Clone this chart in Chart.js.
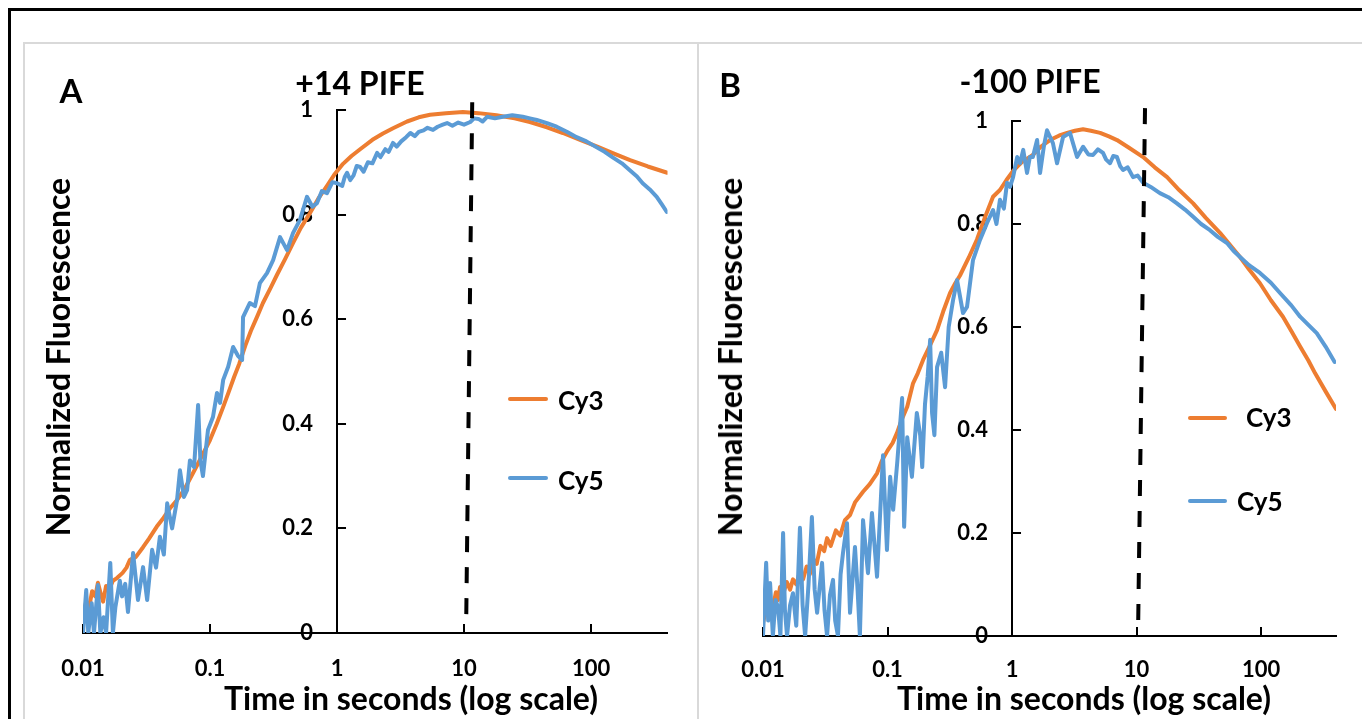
<!DOCTYPE html>
<html>
<head>
<meta charset="utf-8">
<script src="https://cdn.jsdelivr.net/npm/chart.js@4.4.1/dist/chart.umd.min.js"></script>
<style>
  html, body { margin: 0; padding: 0; background: #fff; }
  body { width: 1362px; height: 719px; position: relative; overflow: hidden;
         font-family: Lato, "Open Sans", sans-serif; font-weight: 700; color: #000; }
  .frame { position: absolute; left: 8px; top: 8px; width: 1400px; height: 800px; border: 3px solid #000; }
  .inner { position: absolute; left: 23px; top: 42px; width: 1400px; height: 800px; border: 2px solid #d9d9d9; }
  .divider { position: absolute; left: 697px; top: 42px; width: 2px; height: 700px; background: #d9d9d9; }
  canvas { position: absolute; top: 0; }
  .t { position: absolute; white-space: nowrap; line-height: 1; transform: translate(-50%, -50%); }
  .rot { transform: translate(-50%, -50%) rotate(-90deg); }
  .leg { position: absolute; white-space: nowrap; line-height: 1; transform: translate(0, -50%); font-size: 26px; }
  .swatch { position: absolute; height: 4px; border-radius: 2px; transform: translate(0, -50%); }
</style>
</head>
<body>
<div class="frame"></div>
<div class="inner"></div>
<div class="divider"></div>

<canvas id="panelA" width="698" height="719" style="left:0px"></canvas>
<canvas id="panelB" width="664" height="719" style="left:698px"></canvas>

<div class="t" style="left:71px; top:90px; font-size:33px">A</div>
<div class="t" style="left:360px; top:83px; font-size:32px">+14 PIFE</div>
<div class="t rot" style="left:58px; top:357px; font-size:32px">Normalized Fluorescence</div>
<div class="t" style="left:411px; top:698px; font-size:32px">Time in seconds (log scale)</div>
<div class="swatch" style="left:508px; top:399px; width:40px; background:#ED7D31"></div>
<div class="leg" style="left:558px; top:400px">Cy3</div>
<div class="swatch" style="left:508px; top:478px; width:40px; background:#5B9BD5"></div>
<div class="leg" style="left:558px; top:480px">Cy5</div>

<div class="t" style="left:730px; top:84px; font-size:33px">B</div>
<div class="t" style="left:1030px; top:81px; font-size:32px">-100 PIFE</div>
<div class="t rot" style="left:730px; top:357px; font-size:32px">Normalized Fluorescence</div>
<div class="t" style="left:1084px; top:698px; font-size:32px">Time in seconds (log scale)</div>
<div class="swatch" style="left:1188px; top:418px; width:39px; background:#ED7D31"></div>
<div class="leg" style="left:1246px; top:417px">Cy3</div>
<div class="swatch" style="left:1188px; top:501px; width:39px; background:#5B9BD5"></div>
<div class="leg" style="left:1237px; top:501px">Cy5</div>

<script>
// tick positions
const xTicks = [0.01, 0.1, 1, 10, 100];
const xTickLabels = ["0.01", "0.1", "1", "10", "100"];
const yTicks = [0, 0.2, 0.4, 0.6, 0.8, 1];
const yTickLabels = ["0", "0.2", "0.4", "0.6", "0.8", "1"];

// panel A (+14 PIFE): [time s, normalized fluorescence]
const cy3A = [
  [0.0100,0.03],[0.0106,0.06],[0.0112,0.05],[0.0118,0.08],[0.0125,0.07],[0.0131,0.096],[0.0138,0.075],
  [0.0144,0.06],[0.0152,0.09],[0.0162,0.085],[0.0172,0.10],[0.0185,0.105],[0.0205,0.115],[0.022,0.125],
  [0.0234,0.14],[0.026,0.145],[0.0297,0.164],[0.033,0.18],[0.038,0.203],[0.043,0.22],[0.049,0.24],
  [0.055,0.254],[0.063,0.275],[0.0735,0.306],[0.085,0.335],[0.100,0.369],[0.113,0.40],[0.126,0.43],
  [0.14,0.46],[0.155,0.49],[0.17,0.515],[0.19,0.55],[0.21,0.578],[0.235,0.605],[0.261,0.631],[0.3,0.66],
  [0.337,0.685],[0.39,0.715],[0.451,0.746],[0.52,0.775],[0.613,0.803],[0.71,0.83],[0.834,0.855],
  [0.95,0.876],[1.115,0.897],[1.3,0.912],[1.52,0.925],[1.9,0.943],[2.3,0.955],[2.76,0.965],[3.56,0.978],
  [4.4,0.986],[5.4,0.991],[7.2,0.994],[9.8,0.996],[13,0.994],[18,0.99],[25,0.984],[33,0.977],[45,0.967],
  [60,0.956],[82,0.943],[112,0.93],[150,0.917],[203,0.904],[280,0.892],[398,0.88]
];
const cy5A = [
  [0.0100,0.00],[0.0106,0.082],[0.0110,0.00],[0.0117,0.057],[0.0122,0.00],[0.0131,0.092],[0.0137,0.00],
  [0.0145,0.03],[0.0152,0.00],[0.0164,0.134],[0.0172,0.00],[0.0180,0.05],[0.0195,0.10],[0.0203,0.07],
  [0.0215,0.094],[0.0226,0.04],[0.0248,0.153],[0.0271,0.063],[0.0297,0.126],[0.032,0.063],[0.035,0.159],
  [0.0376,0.125],[0.0403,0.184],[0.0433,0.15],[0.046,0.248],[0.0503,0.20],[0.055,0.254],[0.058,0.311],
  [0.0623,0.26],[0.066,0.273],[0.0695,0.33],[0.0749,0.317],[0.0806,0.436],[0.084,0.33],[0.088,0.30],
  [0.0964,0.388],[0.1055,0.413],[0.1135,0.459],[0.12,0.44],[0.127,0.484],[0.139,0.509],[0.152,0.547],
  [0.166,0.53],[0.179,0.522],[0.182,0.604],[0.206,0.631],[0.226,0.625],[0.247,0.669],[0.281,0.688],
  [0.314,0.713],[0.356,0.757],[0.404,0.732],[0.451,0.765],[0.511,0.79],[0.58,0.834],[0.64,0.815],
  [0.696,0.822],[0.76,0.845],[0.834,0.841],[0.92,0.862],[1.0,0.86],[1.1,0.855],[1.15,0.872],[1.2,0.88],
  [1.27,0.866],[1.35,0.875],[1.43,0.893],[1.52,0.891],[1.62,0.882],[1.75,0.90],[1.9,0.898],[2.07,0.918],
  [2.2,0.91],[2.4,0.925],[2.55,0.92],[2.76,0.937],[2.95,0.93],[3.2,0.94],[3.5,0.948],[3.78,0.956],
  [4.1,0.95],[4.4,0.958],[4.8,0.961],[5.16,0.966],[5.7,0.962],[6.2,0.968],[6.8,0.972],[7.36,0.975],
  [8.1,0.97],[9,0.976],[10,0.972],[11.2,0.977],[12,0.984],[13,0.983],[14,0.978],[15.2,0.987],[17.5,0.984],
  [20.2,0.987],[24,0.99],[29,0.987],[33,0.984],[37.4,0.981],[45,0.975],[53.6,0.968],[65,0.958],
  [77,0.948],[92,0.94],[110,0.929],[128,0.92],[147,0.91],[175,0.898],[202,0.885],[230,0.873],
  [255,0.86],[290,0.848],[329,0.834],[360,0.82],[395,0.805]
];
const markerA = [[11.6,1.015],[10.4,0.021]];

// panel B (-100 PIFE)
const cy3B = [
  [0.0100,0.025],[0.0105,0.05],[0.0110,0.04],[0.0114,0.07],[0.0120,0.055],[0.0127,0.085],[0.0132,0.07],
  [0.0137,0.095],[0.0145,0.08],[0.0155,0.105],[0.0165,0.09],[0.0174,0.11],[0.0185,0.10],[0.0198,0.125],
  [0.021,0.11],[0.0224,0.135],[0.0238,0.12],[0.0252,0.15],[0.027,0.14],[0.0289,0.175],[0.031,0.165],
  [0.0327,0.19],[0.035,0.175],[0.0385,0.205],[0.0417,0.195],[0.0455,0.225],[0.05,0.235],[0.055,0.26],
  [0.0636,0.28],[0.072,0.295],[0.0824,0.316],[0.09,0.34],[0.1,0.36],[0.11,0.375],[0.119,0.394],
  [0.13,0.42],[0.144,0.445],[0.16,0.49],[0.175,0.51],[0.193,0.536],[0.22,0.565],[0.25,0.594],[0.28,0.63],
  [0.318,0.666],[0.35,0.685],[0.382,0.70],[0.45,0.735],[0.523,0.77],[0.6,0.81],[0.704,0.853],[0.8,0.866],
  [0.9,0.885],[1.02,0.903],[1.2,0.92],[1.47,0.934],[1.7,0.95],[2.02,0.963],[2.4,0.972],[2.77,0.977],
  [3.2,0.981],[3.72,0.984],[4.3,0.981],[5.1,0.977],[6,0.97],[6.97,0.963],[8.7,0.948],[11.3,0.93],
  [14,0.91],[17.6,0.891],[22,0.866],[28.5,0.84],[36,0.812],[46.8,0.783],[56,0.76],[67.8,0.736],
  [80,0.712],[98,0.685],[120,0.652],[150,0.62],[175,0.592],[206,0.562],[240,0.535],[272,0.51],
  [330,0.475],[400,0.441]
];
const cy5B = [
  [0.0100,0.00],[0.0106,0.142],[0.0110,0.03],[0.0114,0.103],[0.0120,0.00],[0.0126,0.07],[0.0132,0.056],
  [0.0138,0.00],[0.0145,0.20],[0.0150,0.05],[0.0156,0.00],[0.0165,0.06],[0.0174,0.083],[0.0185,0.02],
  [0.0198,0.21],[0.0208,0.06],[0.0218,0.00],[0.0232,0.10],[0.0247,0.231],[0.0260,0.09],[0.0272,0.045],
  [0.0298,0.142],[0.0312,0.05],[0.0327,0.00],[0.0345,0.08],[0.0365,0.109],[0.0380,0.03],[0.0400,0.00],
  [0.0420,0.12],[0.0439,0.161],[0.0473,0.219],[0.0500,0.045],[0.0548,0.173],[0.0575,0.09],[0.0600,0.00],
  [0.0636,0.225],[0.0697,0.122],[0.0750,0.239],[0.0824,0.115],[0.0920,0.351],[0.0990,0.167],
  [0.1050,0.309],[0.1110,0.245],[0.1200,0.34],[0.1310,0.462],[0.1360,0.212],[0.1440,0.386],
  [0.1570,0.309],[0.1720,0.433],[0.1830,0.39],[0.19,0.328],[0.2,0.45],[0.21,0.503],[0.22,0.575],
  [0.228,0.433],[0.238,0.39],[0.25,0.522],[0.27,0.55],[0.29,0.483],[0.31,0.60],[0.336,0.652],
  [0.362,0.691],[0.404,0.627],[0.435,0.639],[0.486,0.73],[0.553,0.769],[0.63,0.802],[0.704,0.827],
  [0.75,0.80],[0.8,0.847],[0.86,0.83],[0.912,0.88],[0.964,0.872],[1.02,0.891],[1.1,0.93],[1.16,0.918],
  [1.23,0.944],[1.32,0.899],[1.39,0.93],[1.47,0.93],[1.59,0.963],[1.68,0.899],[1.8,0.95],[1.91,0.982],
  [2.13,0.957],[2.3,0.918],[2.57,0.969],[2.92,0.977],[3.33,0.93],[3.72,0.95],[4.1,0.935],[4.47,0.934],
  [4.9,0.945],[5.38,0.938],[5.7,0.925],[6.13,0.918],[6.5,0.932],[6.97,0.93],[7.4,0.912],[7.8,0.905],
  [8.5,0.91],[9.37,0.891],[10.2,0.894],[11.3,0.88],[13,0.872],[15.4,0.86],[18,0.852],[21.1,0.84],
  [24.5,0.828],[28.5,0.814],[33,0.80],[38.9,0.788],[45,0.775],[53.3,0.763],[60,0.748],[67.8,0.736],
  [80,0.72],[98,0.705],[120,0.686],[142,0.666],[175,0.642],[206,0.62],[240,0.604],[280,0.588],
  [330,0.562],[390,0.532]
];
const markerB = [[11.7,1.025],[10.3,0.017]];

const FONT = "Lato, 'Open Sans', sans-serif";

// inward tick marks + y labels left of the axis that crosses at t = 1
const axisMarks = {
  id: "axisMarks",
  beforeDatasetsDraw(chart) {
    const { ctx, scales: { x, y } } = chart;
    const ax = x.getPixelForValue(1);
    const ay = y.getPixelForValue(0);
    ctx.save();
    ctx.strokeStyle = "#000";
    ctx.lineWidth = 2;
    ctx.beginPath();
    yTicks.forEach((v) => {
      const py = Math.round(y.getPixelForValue(v));
      ctx.moveTo(ax, py);
      ctx.lineTo(ax + 9, py);
    });
    xTicks.forEach((v) => {
      const px = Math.round(x.getPixelForValue(v));
      ctx.moveTo(px, ay);
      ctx.lineTo(px, ay - 9);
    });
    ctx.stroke();
    ctx.fillStyle = "#000";
    ctx.font = "bold 22px " + FONT;
    ctx.textAlign = "right";
    ctx.textBaseline = "middle";
    yTicks.forEach((v, i) => ctx.fillText(yTickLabels[i], ax - 24, y.getPixelForValue(v)));
    ctx.restore();
  },
};

function toPoints(pairs) {
  return pairs.map(([t, v]) => ({ x: t, y: v }));
}

function makePanel(id, cy3, cy5, marker, padding, labelPad) {
  const ctx = document.getElementById(id).getContext("2d");
  return new Chart(ctx, {
    type: "line",
    data: {
      datasets: [
        {
          label: "marker",
          data: toPoints(marker),
          borderColor: "#000",
          borderWidth: 4,
          borderDash: [16, 15],
          pointRadius: 0,
          clip: false,
          order: 0,
        },
        {
          label: "Cy5",
          data: toPoints(cy5),
          borderColor: "#5B9BD5",
          borderWidth: 4,
          borderJoinStyle: "round",
          borderCapStyle: "round",
          pointRadius: 0,
          order: 1,
        },
        {
          label: "Cy3",
          data: toPoints(cy3),
          borderColor: "#ED7D31",
          borderWidth: 4,
          borderJoinStyle: "round",
          borderCapStyle: "round",
          pointRadius: 0,
          order: 2,
        },
      ],
    },
    options: {
      responsive: false,
      animation: false,
      devicePixelRatio: 1,
      layout: { padding: padding },
      scales: {
        x: {
          type: "logarithmic",
          min: 0.01,
          max: 400,
          position: { y: 0 },
          afterBuildTicks: (s) => {
            s.ticks = xTicks.map((v) => ({ value: v }));
          },
          ticks: {
            autoSkip: false,
            maxRotation: 0,
            padding: labelPad,
            color: "#000",
            font: { family: FONT, size: 22, weight: "bold" },
            callback: (value, index) => xTickLabels[index],
          },
          grid: { drawOnChartArea: false, drawTicks: false },
          border: { display: true, color: "#000", width: 2 },
        },
        y: {
          type: "linear",
          min: 0,
          max: 1,
          position: { x: 1 },
          afterBuildTicks: (s) => {
            s.ticks = yTicks.map((v) => ({ value: v }));
          },
          ticks: { display: false },
          grid: { drawOnChartArea: false, drawTicks: false },
          border: { display: true, color: "#000", width: 2 },
        },
      },
      plugins: {
        legend: { display: false },
        tooltip: { enabled: false },
      },
    },
    plugins: [axisMarks],
  });
}

makePanel("panelA", cy3A, cy5A, markerA, { left: 83, right: 30.5, top: 110, bottom: 86 }, 23);
makePanel("panelB", cy3B, cy5B, markerB, { left: 65, right: 26, top: 121, bottom: 83 }, 21);
</script>
</body>
</html>
